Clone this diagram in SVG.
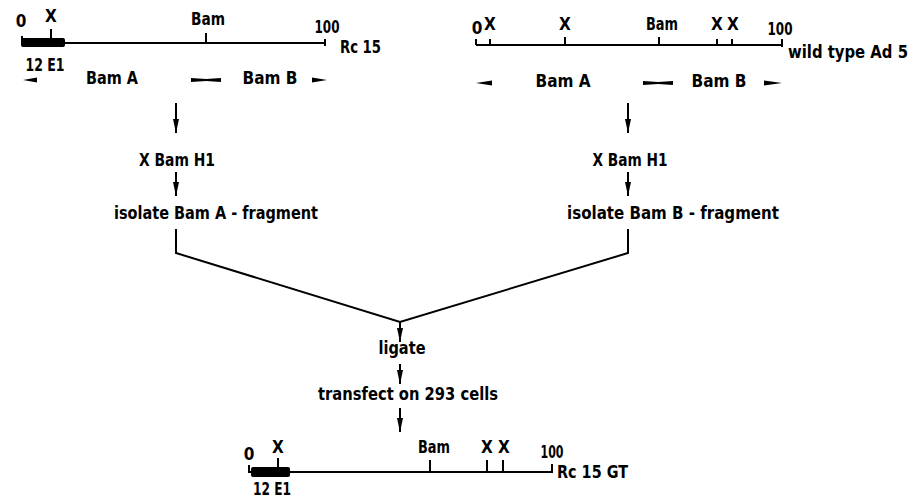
<svg xmlns="http://www.w3.org/2000/svg" width="911" height="498" viewBox="0 0 911 498">
<defs>
<style>
text{font-family:"DejaVu Sans Condensed","DejaVu Sans",sans-serif;font-weight:bold;font-size:17px;fill:#000;text-anchor:middle}
.s{text-anchor:start}
.ln{stroke:#000;stroke-width:2;fill:none}
.tk{stroke:#000;stroke-width:2}
.bar{fill:#000}
</style>
<marker id="ah" viewBox="0 0 14 6" refX="14" refY="3" markerWidth="14" markerHeight="6" markerUnits="userSpaceOnUse" orient="auto">
<path d="M0,0 L14,3 L0,6 Z" fill="#000"/>
</marker>
</defs>
<rect width="911" height="498" fill="#fff"/>

<g id="map-rc15">
<line class="ln" x1="21" y1="43" x2="325" y2="43"/>
<rect class="bar" x="21" y="38" width="44" height="9" rx="2"/>
<line class="tk" x1="22" y1="36" x2="22" y2="43"/>
<line class="tk" x1="51" y1="29" x2="51" y2="40"/>
<line class="tk" x1="206" y1="33" x2="206" y2="43"/>
<line class="tk" x1="325" y1="39" x2="325" y2="46"/>
<text x="21" y="27">0</text>
<text x="51" y="22">X</text>
<text x="208" y="25" textLength="34" lengthAdjust="spacingAndGlyphs">Bam</text>
<text x="327" y="33" textLength="25" lengthAdjust="spacingAndGlyphs">100</text>
<text class="s" x="340" y="53" textLength="41" lengthAdjust="spacingAndGlyphs">Rc 15</text>
<text x="45" y="71" textLength="39" lengthAdjust="spacingAndGlyphs">12 E1</text>
<path d="M23,80 L37,77.5 L37,82.5 Z" class="bar"/>
<text x="112" y="84" textLength="52" lengthAdjust="spacingAndGlyphs">Bam A</text>
<path d="M191,78 L206,79 L221,78 L221,82 L206,81 L191,82 Z" class="bar"/>
<text x="270" y="84" textLength="55" lengthAdjust="spacingAndGlyphs">Bam B</text>
<path d="M327,80 L312,77.5 L312,82.5 Z" class="bar"/>
</g>

<g id="map-ad5">
<line class="ln" x1="476" y1="45" x2="782" y2="45"/>
<line class="tk" x1="476" y1="39" x2="476" y2="45"/>
<line class="tk" x1="490" y1="39" x2="490" y2="45"/>
<line class="tk" x1="565" y1="37" x2="565" y2="45"/>
<line class="tk" x1="659" y1="37" x2="659" y2="45"/>
<line class="tk" x1="717" y1="39" x2="717" y2="45"/>
<line class="tk" x1="732" y1="39" x2="732" y2="45"/>
<line class="tk" x1="782" y1="39" x2="782" y2="47"/>
<text x="477" y="34">0</text>
<text x="490" y="30">X</text>
<text x="565" y="30">X</text>
<text x="662" y="30" textLength="32" lengthAdjust="spacingAndGlyphs">Bam</text>
<text x="717" y="30">X</text>
<text x="733" y="30">X</text>
<text x="780" y="35" textLength="25" lengthAdjust="spacingAndGlyphs">100</text>
<text class="s" x="788" y="58" textLength="120" lengthAdjust="spacingAndGlyphs">wild type Ad 5</text>
<path d="M476,83 L492,80.5 L492,85.5 Z" class="bar"/>
<text x="563" y="87" textLength="55" lengthAdjust="spacingAndGlyphs">Bam A</text>
<path d="M643,81 L658,82 L673,81 L673,85 L658,84 L643,85 Z" class="bar"/>
<text x="719" y="87" textLength="55" lengthAdjust="spacingAndGlyphs">Bam B</text>
<path d="M782,83 L764,80.5 L764,85.5 Z" class="bar"/>
</g>

<g id="step-left-cut"><text x="177" y="166" textLength="76" lengthAdjust="spacingAndGlyphs">X Bam H1</text></g>
<g id="step-left-iso"><text x="216" y="219" textLength="204" lengthAdjust="spacingAndGlyphs">isolate Bam A - fragment</text></g>
<g id="step-right-cut"><text x="630" y="166" textLength="75" lengthAdjust="spacingAndGlyphs">X Bam H1</text></g>
<g id="step-right-iso"><text x="673" y="219" textLength="212" lengthAdjust="spacingAndGlyphs">isolate Bam B - fragment</text></g>
<g id="step-ligate"><text x="402" y="354" textLength="47" lengthAdjust="spacingAndGlyphs">ligate</text></g>
<g id="step-transfect"><text x="408" y="400" textLength="180" lengthAdjust="spacingAndGlyphs">transfect on 293 cells</text></g>

<g id="map-rc15gt">
<line class="ln" x1="248" y1="472" x2="552" y2="472"/>
<rect class="bar" x="251" y="467" width="39" height="10" rx="2"/>
<line class="tk" x1="249" y1="465" x2="249" y2="472"/>
<line class="tk" x1="278" y1="458" x2="278" y2="468"/>
<line class="tk" x1="430" y1="460" x2="430" y2="472"/>
<line class="tk" x1="487" y1="460" x2="487" y2="472"/>
<line class="tk" x1="503" y1="460" x2="503" y2="472"/>
<line class="tk" x1="552" y1="464" x2="552" y2="473"/>
<text x="249" y="460">0</text>
<text x="278" y="453">X</text>
<text x="434" y="453" textLength="32" lengthAdjust="spacingAndGlyphs">Bam</text>
<text x="487" y="453">X</text>
<text x="504" y="453">X</text>
<text x="552" y="458" textLength="23" lengthAdjust="spacingAndGlyphs">100</text>
<text class="s" x="557" y="478" textLength="71" lengthAdjust="spacingAndGlyphs">Rc 15 GT</text>
<text x="272" y="495" textLength="38" lengthAdjust="spacingAndGlyphs">12 E1</text>
</g>

<g id="connectors">
<line class="ln" x1="176" y1="103" x2="176" y2="133" marker-end="url(#ah)"/>
<line class="ln" x1="176" y1="172" x2="176" y2="196" marker-end="url(#ah)"/>
<line class="ln" x1="628" y1="103" x2="628" y2="133" marker-end="url(#ah)"/>
<line class="ln" x1="628" y1="172" x2="628" y2="196" marker-end="url(#ah)"/>
<polyline class="ln" points="176,229 176,253 400,322 628,253 628,229"/>
<line class="ln" x1="400" y1="322" x2="400" y2="342" marker-end="url(#ah)"/>
<line class="ln" x1="400" y1="364" x2="400" y2="384" marker-end="url(#ah)"/>
<line class="ln" x1="400" y1="408" x2="400" y2="432" marker-end="url(#ah)"/>
</g>
</svg>
